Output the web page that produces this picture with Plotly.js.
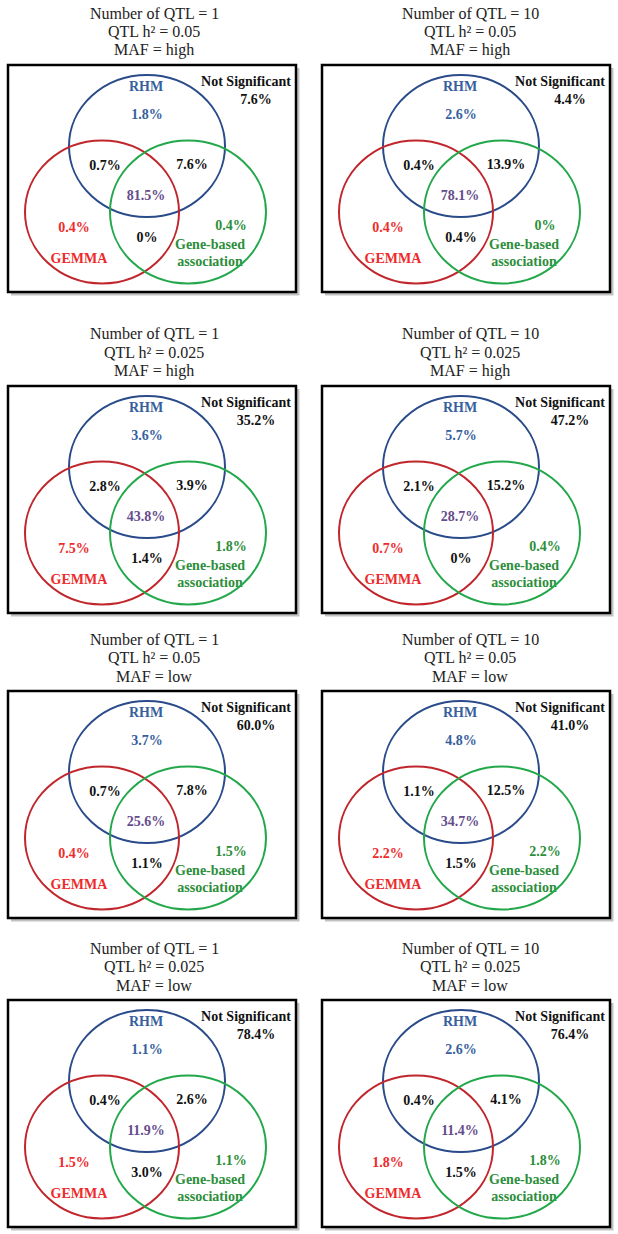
<!DOCTYPE html>
<html>
<head>
<meta charset="utf-8">
<script src="https://cdn.plot.ly/plotly-3.0.1.min.js"></script>
<style>html,body{margin:0;padding:0;background:#fff;}#chart{width:618px;height:1234px;}</style>
</head>
<body>
<div id="chart"></div>
<script>
// ---- data (percent of simulations in each Venn region) ----
const nQTL      = [1, 10, 1, 10, 1, 10, 1, 10];
const qtlH2     = ['0.05', '0.05', '0.025', '0.025', '0.05', '0.05', '0.025', '0.025'];
const maf       = ['high', 'high', 'high', 'high', 'low', 'low', 'low', 'low'];
const rhmOnly   = [1.8, 2.6, 3.6, 5.7, 3.7, 4.8, 1.1, 2.6];
const gemmaOnly = [0.4, 0.4, 7.5, 0.7, 0.4, 2.2, 1.5, 1.8];
const geneOnly  = [0.4, 0, 1.8, 0.4, 1.5, 2.2, 1.1, 1.8];
const rhmGemma  = [0.7, 0.4, 2.8, 2.1, 0.7, 1.1, 0.4, 0.4];
const rhmGene   = [7.6, 13.9, 3.9, 15.2, 7.8, 12.5, 2.6, 4.1];
const gemmaGene = [0, 0.4, 1.4, 0, 1.1, 1.5, 3.0, 1.5];
const allThree  = [81.5, 78.1, 43.8, 28.7, 25.6, 34.7, 11.9, 11.4];
const notSig    = [7.6, 4.4, 35.2, 47.2, 60.0, 41.0, 78.4, 76.4];
const setNames  = ['RHM', 'GEMMA', 'Gene-based', 'association', 'Not Significant'];

// ---- layout geometry (pixels) ----
const W = 618, H = 1234;
const BW = 288, BH = 227, PAD = 6;
const colX = [8, 322];
const rowY = [65, 386, 691, 1000];
const titleX = [154, 470];

const C = {
  blueLine: '#2A4B8A', blueText: '#36609E',
  redLine: '#C0262C', redText: '#EE2B2B',
  greenLine: '#22A84A', greenText: '#2C8E3A',
  purple: '#654C8C', black: '#111111'
};
const fmt = v => (v === 0 ? '0%' : v.toFixed(1) + '%');
const serif = 'Liberation Serif';
const b = s => '<b>' + s + '</b>';

const traces = [];
const shapes = [];
const annotations = [];
const layout = {
  width: W, height: H,
  margin: {l: 0, r: 0, t: 0, b: 0},
  paper_bgcolor: '#ffffff', plot_bgcolor: 'rgba(0,0,0,0)',
  showlegend: false,
  font: {family: serif}
};

for (let i = 0; i < 8; i++) {
  const col = i % 2, row = Math.floor(i / 2);
  const bx = colX[col], by = rowY[row];
  const xa = 'x' + (i === 0 ? '' : i + 1), ya = 'y' + (i === 0 ? '' : i + 1);
  const xk = 'xaxis' + (i === 0 ? '' : i + 1), yk = 'yaxis' + (i === 0 ? '' : i + 1);
  layout[xk] = {
    domain: [(bx - PAD) / W, (bx + BW + PAD) / W],
    range: [-PAD, BW + PAD], visible: false, fixedrange: true, anchor: ya
  };
  layout[yk] = {
    domain: [1 - (by + BH + PAD) / H, 1 - (by - PAD) / H],
    range: [BH + PAD, -PAD], visible: false, fixedrange: true, anchor: xa
  };

  // shadow + frame
  shapes.push({type: 'rect', xref: xa, yref: ya, x0: 3, y0: 3, x1: BW + 3.5, y1: BH + 3.5,
    fillcolor: 'rgba(120,120,120,0.45)', line: {width: 0}, layer: 'below'});
  shapes.push({type: 'rect', xref: xa, yref: ya, x0: 0, y0: 0, x1: BW, y1: BH,
    fillcolor: '#ffffff', line: {color: '#000000', width: 2.5}, layer: 'below'});
  // circles
  const circ = (cx, cy, rx, ry, color) => shapes.push({type: 'circle', xref: xa, yref: ya,
    x0: cx - rx, x1: cx + rx, y0: cy - ry, y1: cy + ry, line: {color: color, width: 2}});
  circ(139, 81, 78, 71, C.blueLine);
  circ(94, 147, 77, 71.5, C.redLine);
  circ(180, 147, 78, 71.5, C.greenLine);

  const txt = (xs, ys, texts, color) => traces.push({
    type: 'scatter', mode: 'text', xaxis: xa, yaxis: ya, x: xs, y: ys, text: texts.map(b),
    textposition: 'middle center', hoverinfo: 'skip', cliponaxis: false,
    textfont: {family: serif, size: 14, color: color}
  });
  txt([138, 139], [22, 50], [setNames[0], fmt(rhmOnly[i])], C.blueText);
  txt([66, 71], [163, 194], [fmt(gemmaOnly[i]), setNames[1]], C.redText);
  txt([223, 202, 202], [161.5, 180.5, 197], [fmt(geneOnly[i]), setNames[2], setNames[3]], C.greenText);
  txt([138], [131], [fmt(allThree[i])], C.purple);
  txt([97, 184, 139, 238, 248], [101.5, 100.5, 173, 17.5, 35.5],
      [fmt(rhmGemma[i]), fmt(rhmGene[i]), fmt(gemmaGene[i]), setNames[4], fmt(notSig[i])], C.black);

  // titles
  const lines = ['Number of QTL = ' + nQTL[i], 'QTL h\u00B2 = ' + qtlH2[i], 'MAF = ' + maf[i]];
  lines.forEach((t, k) => annotations.push({
    xref: 'paper', yref: 'paper', x: titleX[col] / W, y: 1 - (by - 52 + 18.5 * k) / H,
    xanchor: 'center', yanchor: 'middle', showarrow: false, text: t,
    font: {family: serif, size: 16, color: '#222222'}
  }));
}
layout.shapes = shapes;
layout.annotations = annotations;
Plotly.newPlot('chart', traces, layout, {staticPlot: true, displayModeBar: false});
</script>
</body>
</html>
